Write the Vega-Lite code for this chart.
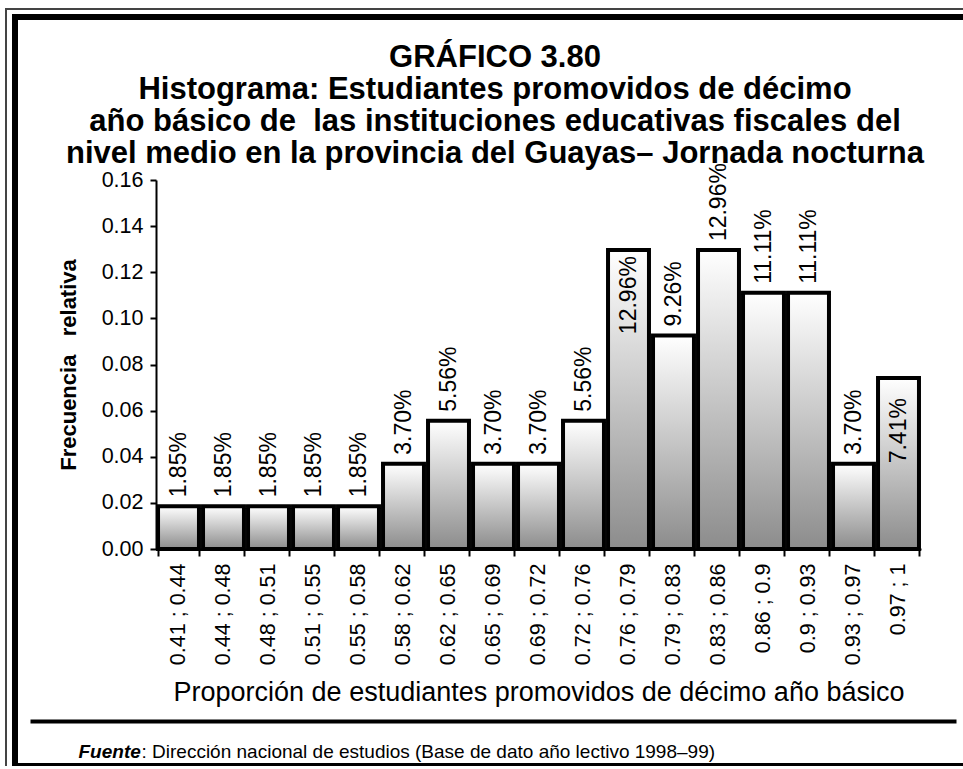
{
  "$schema": "https://vega.github.io/schema/vega-lite/v6.json",
  "width": 960,
  "height": 749,
  "autosize": {"type": "none"},
  "padding": {"left": 15, "top": 17, "right": 0, "bottom": 0},
  "background": "white",
  "config": {
    "view": {"stroke": "black", "strokeWidth": 6},
    "font": "Liberation Sans",
    "axis": {"grid": false, "domainColor": "black", "tickColor": "black", "labelColor": "black", "titleColor": "black", "labelFont": "Liberation Sans", "titleFont": "Liberation Sans"}
  },
  "title": {
    "text": ["GRÁFICO 3.80", "Histograma: Estudiantes promovidos de décimo", "año básico de\u00a0 las instituciones educativas fiscales del", "nivel medio en la provincia del Guayas– Jornada nocturna"],
    "anchor": "middle",
    "frame": "group",
    "orient": "top",
    "offset": -165,
    "baseline": "top",
    "font": "Liberation Sans",
    "fontSize": 31,
    "fontWeight": "bold",
    "lineHeight": 32,
    "color": "black"
  },
  "resolve": {"scale": {"x": "independent", "y": "independent"}},
  "layer": [
    {
      "data": {"values": [
        {"clase": "0.41 ; 0.44", "freq": 0.0185},
        {"clase": "0.44 ; 0.48", "freq": 0.0185},
        {"clase": "0.48 ; 0.51", "freq": 0.0185},
        {"clase": "0.51 ; 0.55", "freq": 0.0185},
        {"clase": "0.55 ; 0.58", "freq": 0.0185},
        {"clase": "0.58 ; 0.62", "freq": 0.0370},
        {"clase": "0.62 ; 0.65", "freq": 0.0556},
        {"clase": "0.65 ; 0.69", "freq": 0.0370},
        {"clase": "0.69 ; 0.72", "freq": 0.0370},
        {"clase": "0.72 ; 0.76", "freq": 0.0556},
        {"clase": "0.76 ; 0.79", "freq": 0.1296},
        {"clase": "0.79 ; 0.83", "freq": 0.0926},
        {"clase": "0.83 ; 0.86", "freq": 0.1296},
        {"clase": "0.86 ; 0.9", "freq": 0.1111},
        {"clase": "0.9 ; 0.93", "freq": 0.1111},
        {"clase": "0.93 ; 0.97", "freq": 0.0370},
        {"clase": "0.97 ; 1", "freq": 0.0741}
      ]},
      "encoding": {
        "x": {
          "field": "clase", "type": "nominal", "sort": null,
          "scale": {"range": [141, 906], "paddingInner": 0.09, "paddingOuter": 0.045},
          "axis": {
            "orient": "bottom", "offset": -217,
            "title": "Proporción de estudiantes promovidos de décimo año básico",
            "titleFontSize": 27, "titleFontWeight": "normal", "titleY": 151, "titleBaseline": "alphabetic",
            "labelAngle": 270, "labelAlign": "right", "labelBaseline": "middle",
            "labelFontSize": 21.5, "labelPadding": 7, "tickSize": 7, "tickWidth": 2, "domainWidth": 2,
            "tickBand": "extent"
          }
        },
        "y": {
          "field": "freq", "type": "quantitative",
          "scale": {"domain": [0, 0.16], "range": [532, 163], "nice": false},
          "axis": {
            "orient": "left", "offset": -141,
            "values": [0, 0.02, 0.04, 0.06, 0.08, 0.1, 0.12, 0.14, 0.16],
            "format": ".2f", "labelFontSize": 21.5, "labelPadding": 7, "tickSize": 6, "tickWidth": 2, "domainWidth": 2,
            "title": "Frecuencia\u00a0\u00a0\u00a0relativa", "titleFontSize": 22, "titleFontWeight": "bold",
            "titleX": -88, "titleBaseline": "middle", "titleAngle": 270
          }
        }
      },
      "layer": [
        {
          "mark": {
            "type": "bar",
            "fill": {"gradient": "linear", "x1": 0, "y1": 0, "x2": 0, "y2": 1, "stops": [{"offset": 0, "color": "#ffffff"}, {"offset": 1, "color": "#8c8c8c"}]},
            "stroke": "black", "strokeWidth": 4
          }
        },
        {
          "transform": [{"filter": "datum.clase != '0.76 ; 0.79' && datum.clase != '0.97 ; 1'"}],
          "mark": {"type": "text", "angle": 270, "align": "left", "baseline": "middle", "dx": 9, "fontSize": 23, "font": "Liberation Sans", "color": "black"},
          "encoding": {"text": {"field": "freq", "type": "quantitative", "format": ".2%"}}
        },
        {
          "transform": [{"filter": "datum.clase == '0.76 ; 0.79'"}],
          "mark": {"type": "text", "angle": 270, "align": "right", "baseline": "middle", "dx": -6, "fontSize": 23, "font": "Liberation Sans", "color": "black"},
          "encoding": {"text": {"field": "freq", "type": "quantitative", "format": ".2%"}}
        },
        {
          "transform": [{"filter": "datum.clase == '0.97 ; 1'"}],
          "mark": {"type": "text", "angle": 270, "align": "right", "baseline": "middle", "dx": -20, "fontSize": 23, "font": "Liberation Sans", "color": "black"},
          "encoding": {"text": {"field": "freq", "type": "quantitative", "format": ".2%"}}
        }
      ]
    },
    {
      "data": {"values": [{"p": 0}, {"p": 1}]},
      "mark": {"type": "point", "opacity": 0},
      "encoding": {
        "x": {
          "field": "p", "type": "quantitative",
          "scale": {"domain": [0, 1], "range": [15, 941], "nice": false, "zero": false},
          "axis": {
            "orient": "bottom", "offset": -45, "domain": true, "domainWidth": 4, "domainColor": "black",
            "ticks": false, "labels": false, "grid": false,
            "title": ": Dirección nacional de estudios (Base de dato año lectivo 1998–99)",
            "titleFontSize": 19, "titleFontWeight": "normal", "titleAlign": "left", "titleAnchor": "start",
            "titleX": 126, "titleY": 36, "titleBaseline": "alphabetic"
          }
        }
      }
    },
    {
      "data": {"values": [{"p": 0}, {"p": 1}]},
      "mark": {"type": "point", "opacity": 0},
      "encoding": {
        "x": {
          "field": "p", "type": "quantitative",
          "scale": {"domain": [0, 1], "range": [15, 941], "nice": false, "zero": false},
          "axis": {
            "orient": "bottom", "offset": -45, "domain": false,
            "ticks": false, "labels": false, "grid": false,
            "title": "Fuente",
            "titleFontSize": 19, "titleFontWeight": "bold", "titleFontStyle": "italic", "titleAlign": "left", "titleAnchor": "start",
            "titleX": 63, "titleY": 36, "titleBaseline": "alphabetic"
          }
        }
      }
    },
    {
      "data": {"values": [{"p": 0}, {"p": 1}]},
      "mark": {"type": "point", "opacity": 0},
      "encoding": {
        "x": {
          "field": "p", "type": "quantitative",
          "scale": {"domain": [0, 1], "range": [-10, 960], "nice": false, "zero": false},
          "axis": {"orient": "top", "offset": 8.5, "domain": true, "domainWidth": 2, "domainColor": "#444444", "ticks": false, "labels": false, "grid": false, "title": null}
        },
        "y": {
          "field": "p", "type": "quantitative",
          "scale": {"domain": [0, 1], "range": [752, -9.5], "nice": false, "zero": false},
          "axis": {"orient": "left", "offset": 9.5, "domain": true, "domainWidth": 2, "domainColor": "#444444", "ticks": false, "labels": false, "grid": false, "title": null}
        }
      }
    }
  ]
}
